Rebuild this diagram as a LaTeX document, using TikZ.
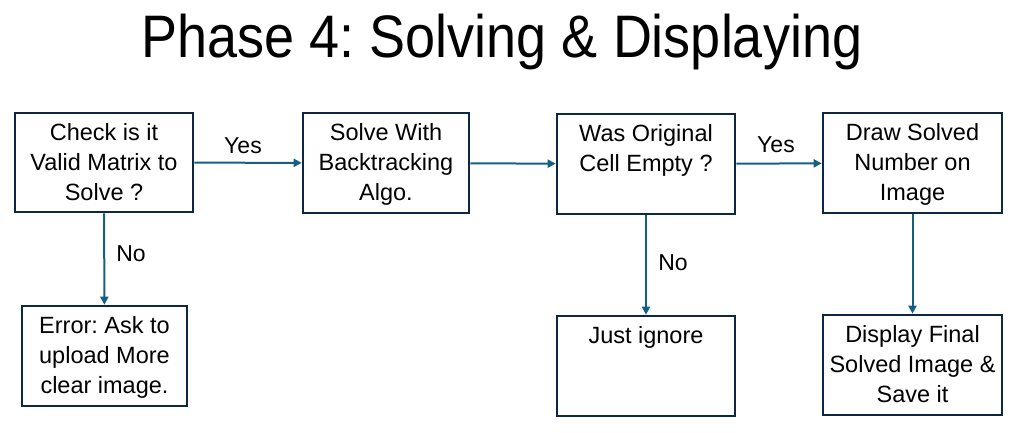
\documentclass[tikz,border=0pt]{standalone}
\usepackage{fontspec}
\setmainfont{Liberation Sans}
\usetikzlibrary{arrows.meta}
\definecolor{boxc}{HTML}{0E2841}
\definecolor{arrc}{HTML}{156082}
\frenchspacing
\begin{document}
\begin{tikzpicture}[x=1pt,y=-1pt,
  box/.style={draw=boxc, line width=2.6pt, fill=white, rectangle, inner sep=0pt},
  txt/.style={anchor=north, align=center, inner sep=0pt, font=\fontsize{23.5}{30}\selectfont},
  lbl/.style={inner sep=0pt, font=\fontsize{23}{26}\selectfont},
  conn/.style={draw=arrc, line width=2pt, -{Triangle[length=8pt,width=8pt]}}]
\useasboundingbox (0,0) rectangle (1017,433);
\node[anchor=base, inner sep=0pt, font=\fontsize{60}{66}\selectfont] (title) at (502,58) {\scalebox{0.9}[1]{Phase 4: Solving \& Displaying}};
% boxes
\node[box, minimum width=178pt, minimum height=99pt] (b1) at (104,162.5) {};
\node[box, minimum width=166pt, minimum height=100pt] (b2) at (386,163) {};
\node[box, minimum width=178pt, minimum height=100pt] (b3) at (646,164) {};
\node[box, minimum width=179pt, minimum height=100pt] (b4) at (912.5,163) {};
\node[box, minimum width=165pt, minimum height=100pt] (e1) at (104.5,356) {};
\node[box, minimum width=178pt, minimum height=100pt] (e3) at (646,366) {};
\node[box, minimum width=179pt, minimum height=100pt] (e4) at (912.5,365) {};
% texts
\node[txt] (t1) at ([yshift=-12pt]b1.north) {Check is it\\Valid Matrix to\\Solve ?};
\node[txt] (t2) at ([yshift=-12pt]b2.north) {Solve With\\Backtracking\\Algo.};
\node[txt] (t3) at ([yshift=-12pt]b3.north) {Was Original\\Cell Empty ?};
\node[txt] (t4) at ([yshift=-12pt]b4.north) {Draw Solved\\Number on\\Image};
\node[txt] (te1) at ([yshift=-12pt]e1.north) {Error: Ask to\\upload More\\clear image.};
\node[txt] (te3) at ([yshift=-12pt]e3.north) {Just ignore};
\node[txt] (te4) at ([yshift=-12pt]e4.north) {Display Final\\Solved Image \&\\Save it};
% connectors
\draw[conn] (b1) -- (b2);
\draw[conn] (b2) -- (b3);
\draw[conn] (b3) -- (b4);
\draw[conn] (b1) -- (e1);
\draw[conn] (b3) -- (e3);
\draw[conn] (b4) -- (e4);
% labels
\node[lbl] (y1) at (243,146) {Yes};
\node[lbl] (y2) at (776,145) {Yes};
\node[lbl] (n1) at (131,254) {No};
\node[lbl] (n2) at (673,263) {No};
\end{tikzpicture}
\end{document}
